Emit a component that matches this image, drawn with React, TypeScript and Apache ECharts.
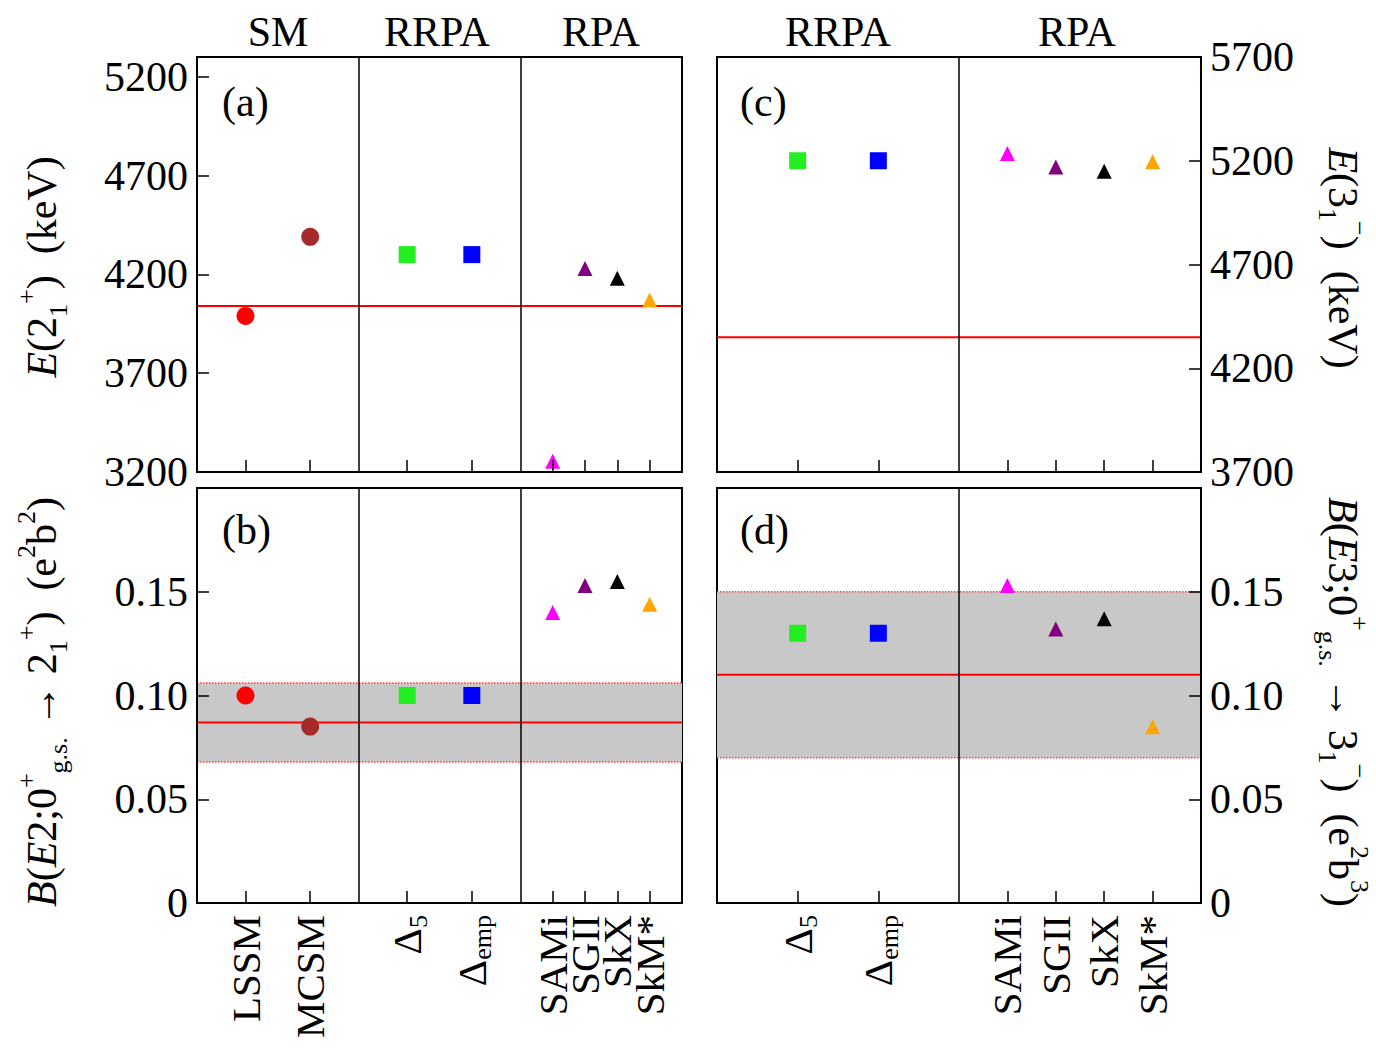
import React, { useEffect, useRef } from 'react';
import * as echarts from 'echarts';

const FONT = 'Liberation Serif';

// Left panels (a), (b)
const leftCategories = ['LSSM', 'MCSM', 'Δ5', 'Δemp', 'SAMi', 'SGII', 'SkX', 'SkM*'];
const leftPositions = [0.3, 0.7, 1.3, 1.7, 2.2, 2.4, 2.6, 2.8];
const leftDividers = [1, 2];
const leftSymbols = ['circle', 'circle', 'rect', 'rect', 'triangle', 'triangle', 'triangle', 'triangle'];
const leftColors = ['#ff0000', '#a52a2a', '#22ee22', '#0000ff', '#ff00ff', '#800080', '#000000', '#ffa500'];
const e2Values = [3990, 4390, 4300, 4300, 3255, 4230, 4180, 4070];
const be2Values = [0.1, 0.085, 0.1, 0.1, 0.14, 0.153, 0.155, 0.144];
const e2Exp = 4040;
const be2Exp = 0.087;
const be2Band = [0.068, 0.106];

// Right panels (c), (d)
const rightCategories = ['Δ5', 'Δemp', 'SAMi', 'SGII', 'SkX', 'SkM*'];
const rightPositions = [1 / 3, 2 / 3, 1.2, 1.4, 1.6, 1.8];
const rightDividers = [1];
const rightSymbols = ['rect', 'rect', 'triangle', 'triangle', 'triangle', 'triangle'];
const rightColors = ['#22ee22', '#0000ff', '#ff00ff', '#800080', '#000000', '#ffa500'];
const e3Values = [5200, 5200, 5235, 5170, 5150, 5195];
const be3Values = [0.13, 0.13, 0.153, 0.132, 0.137, 0.085];
const e3Exp = 4350;
const be3Exp = 0.11;
const be3Band = [0.07, 0.15];

const leftHeaders = ['SM', 'RRPA', 'RPA'];
const rightHeaders = ['RRPA', 'RPA'];

const symbolSize: Record<string, number> = { circle: 18, rect: 17, triangle: 15 };

function catLabel(c: string) {
  if (c === 'Δ5') return '{n|Δ}{s|5}';
  if (c === 'Δemp') return '{n|Δ}{s|emp}';
  return '{n|' + c + '}';
}

const labelRich = {
  n: { fontSize: 41, fontFamily: FONT, color: '#000', lineHeight: 48, verticalAlign: 'middle' },
  s: { fontSize: 26, fontFamily: FONT, color: '#000', lineHeight: 48, verticalAlign: 'bottom' },
};

const titleRich = {
  n: { fontSize: 42, fontFamily: FONT, fill: '#000', lineHeight: 58, verticalAlign: 'middle' },
  i: { fontSize: 42, fontFamily: FONT, fontStyle: 'italic', fill: '#000', lineHeight: 58, verticalAlign: 'middle' },
  sup: { fontSize: 26, fontFamily: FONT, fill: '#000', lineHeight: 58, verticalAlign: 'top' },
  sub: { fontSize: 26, fontFamily: FONT, fill: '#000', lineHeight: 58, verticalAlign: 'bottom' },
};

const gridBoxes = [
  { left: 197, top: 57, width: 485, height: 415 },
  { left: 197, top: 488, width: 485, height: 415 },
  { left: 717, top: 57, width: 484, height: 415 },
  { left: 717, top: 488, width: 484, height: 415 },
];

function labelCfg(positions: number[], labelPositions: number[], cats: string[]) {
  return {
    show: true,
    customValues: labelPositions,
    showMinLabel: true,
    showMaxLabel: true,
    rotate: 90,
    margin: 12,
    fontSize: 41,
    fontFamily: FONT,
    color: '#000',
    rich: labelRich,
    formatter: (v: number) => {
      const i = positions.findIndex((p) => Math.abs(p - v) < 1e-6);
      return i >= 0 ? catLabel(cats[i]) : '';
    },
  };
}

function mkX(gridIndex: number, max: number, positions: number[], labelPositions: number[] | null, cats: string[] | null) {
  return {
    type: 'value',
    gridIndex,
    min: 0,
    max,
    z: 10,
    axisLine: { show: true, onZero: false, lineStyle: { color: '#000', width: 2 } },
    axisTick: { show: true, inside: true, length: 12, customValues: positions, lineStyle: { color: '#000', width: 1.5 } },
    axisLabel: cats && labelPositions ? labelCfg(positions, labelPositions, cats) : { show: false },
    splitLine: { show: false },
  };
}

// label-only axis sharing a grid, so that closely spaced names do not get thinned
function mkXLabelsOnly(gridIndex: number, max: number, positions: number[], labelPositions: number[], cats: string[]) {
  return {
    type: 'value',
    gridIndex,
    min: 0,
    max,
    position: 'bottom',
    offset: 0,
    axisLine: { show: false, onZero: false },
    axisTick: { show: false },
    axisLabel: labelCfg(positions, labelPositions, cats),
    splitLine: { show: false },
  };
}

function mkY(gridIndex: number, min: number, max: number, interval: number, position: string, showMax: boolean, fmt: (v: number) => string) {
  return {
    type: 'value',
    gridIndex,
    min,
    max,
    interval,
    position,
    z: 10,
    axisLine: { show: true, onZero: false, lineStyle: { color: '#000', width: 2 } },
    axisTick: { show: true, inside: true, length: 12, lineStyle: { color: '#000', width: 1.5 } },
    axisLabel: { show: true, showMinLabel: true, showMaxLabel: showMax, margin: 9, fontSize: 42, fontFamily: FONT, color: '#000', formatter: fmt },
    splitLine: { show: false },
  };
}

function pointsSeries(k: number, positions: number[], values: number[], symbols: string[], colors: string[], dividers: number[]) {
  return {
    type: 'scatter',
    xAxisIndex: k,
    yAxisIndex: k,
    z: 5,
    data: positions.map((p, i) => ({
      value: [p, values[i]],
      symbol: symbols[i],
      symbolSize: symbolSize[symbols[i]],
      itemStyle: { color: colors[i], opacity: 1 },
    })),
    markLine: {
      silent: true,
      symbol: ['none', 'none'],
      label: { show: false },
      lineStyle: { color: '#000', width: 1.5, type: 'solid' },
      data: dividers.map((d) => ({ xAxis: d })),
    },
  };
}

function expLine(k: number, max: number, v: number) {
  return {
    type: 'line',
    xAxisIndex: k,
    yAxisIndex: k,
    z: 3,
    symbol: 'none',
    lineStyle: { color: '#ff0000', width: 2 },
    data: [[0, v], [max, v]],
  };
}

function bandSeries(k: number, max: number, band: number[]) {
  return [
    {
      type: 'line',
      xAxisIndex: k,
      yAxisIndex: k,
      z: 1,
      symbol: 'none',
      lineStyle: { color: '#ff4040', width: 1.5, type: 'dotted' },
      data: [[0, band[0]], [max, band[0]]],
      markArea: {
        silent: true,
        itemStyle: { color: '#c8c8c8', opacity: 1 },
        data: [[{ yAxis: band[0] }, { yAxis: band[1] }]],
      },
    },
    {
      type: 'line',
      xAxisIndex: k,
      yAxisIndex: k,
      z: 2,
      symbol: 'none',
      lineStyle: { color: '#ff4040', width: 1.5, type: 'dotted' },
      data: [[0, band[1]], [max, band[1]]],
    },
  ];
}

const fmtE = (v: number) => String(Math.round(v));
const fmtB = (v: number) => (Math.abs(v) < 1e-9 ? '0' : v.toFixed(2));

function txt(text: string, x: number, y: number, align = 'center') {
  return {
    type: 'text',
    x,
    y,
    z: 20,
    style: { text, fontSize: 42, fontFamily: FONT, fill: '#000', align, verticalAlign: 'middle' },
  };
}

function buildOption() {
  const graphic: any[] = [];
  const lx = [278, 437, 601];
  leftHeaders.forEach((h, i) => graphic.push(txt(h, lx[i], 32)));
  const rx = [838, 1077];
  rightHeaders.forEach((h, i) => graphic.push(txt(h, rx[i], 32)));
  graphic.push(txt('(a)', 222, 102, 'left'));
  graphic.push(txt('(b)', 222, 530, 'left'));
  graphic.push(txt('(c)', 740, 102, 'left'));
  graphic.push(txt('(d)', 740, 530, 'left'));
  const titleEl = (text: string, x: number, y: number, rot: number) => ({
    type: 'text',
    x,
    y,
    rotation: rot,
    z: 20,
    style: { text, rich: titleRich, fontSize: 42, fontFamily: FONT, fill: '#000', align: 'center', verticalAlign: 'middle' },
  });
  graphic.push(titleEl('{i|E}{n|(2}{sub|1}{sup|+}{n|)  (keV)}', 42, 267, Math.PI / 2));
  graphic.push(titleEl('{i|B}{n|(}{i|E}{n|2;0}{sup|+}{sub|g.s.}{n| → 2}{sub|1}{sup|+}{n|)  (e}{sup|2}{n|b}{sup|2}{n|)}', 42, 702, Math.PI / 2));
  graphic.push(titleEl('{i|E}{n|(3}{sub|1}{sup|−}{n|)  (keV)}', 1343, 258, -Math.PI / 2));
  graphic.push(titleEl('{i|B}{n|(}{i|E}{n|3;0}{sup|+}{sub|g.s.}{n| → 3}{sub|1}{sup|−}{n|)  (e}{sup|2}{n|b}{sup|3}{n|)}', 1343, 702, -Math.PI / 2));

  // split closely spaced RPA labels over two label axes sharing the same baseline
  const leftLabelsA = leftPositions.filter((_, i) => i !== 5 && i !== 7);
  const leftLabelsB = leftPositions.filter((_, i) => i === 5 || i === 7);

  return {
    animation: false,
    backgroundColor: '#fff',
    textStyle: { fontFamily: FONT },
    grid: gridBoxes.map((g) => ({ ...g, show: true, borderColor: '#000', borderWidth: 2, backgroundColor: 'transparent' })),
    xAxis: [
      mkX(0, 3, leftPositions, null, null),
      mkX(1, 3, leftPositions, leftLabelsA, leftCategories),
      mkX(2, 2, rightPositions, null, null),
      mkX(3, 2, rightPositions, rightPositions, rightCategories),
      mkXLabelsOnly(1, 3, leftPositions, leftLabelsB, leftCategories),
    ],
    yAxis: [
      mkY(0, 3200, 5300, 500, 'left', false, fmtE),
      mkY(1, 0, 0.2, 0.05, 'left', false, fmtB),
      mkY(2, 3700, 5700, 500, 'right', true, fmtE),
      mkY(3, 0, 0.2, 0.05, 'right', false, fmtB),
    ],
    series: [
      ...bandSeries(1, 3, be2Band),
      ...bandSeries(3, 2, be3Band),
      expLine(0, 3, e2Exp),
      expLine(1, 3, be2Exp),
      expLine(2, 2, e3Exp),
      expLine(3, 2, be3Exp),
      pointsSeries(0, leftPositions, e2Values, leftSymbols, leftColors, leftDividers),
      pointsSeries(1, leftPositions, be2Values, leftSymbols, leftColors, leftDividers),
      pointsSeries(2, rightPositions, e3Values, rightSymbols, rightColors, rightDividers),
      pointsSeries(3, rightPositions, be3Values, rightSymbols, rightColors, rightDividers),
    ],
    graphic,
  };
}

export default function App() {
  const ref = useRef<HTMLDivElement>(null);
  useEffect(() => {
    const chart = echarts.init(ref.current!, null, { renderer: 'svg' });
    chart.setOption(buildOption() as any);
    return () => chart.dispose();
  }, []);
  return (
    <div
      ref={ref}
      style={{ position: 'absolute', left: 0, top: 0, width: 1376, height: 1049, background: '#fff' }}
    />
  );
}
